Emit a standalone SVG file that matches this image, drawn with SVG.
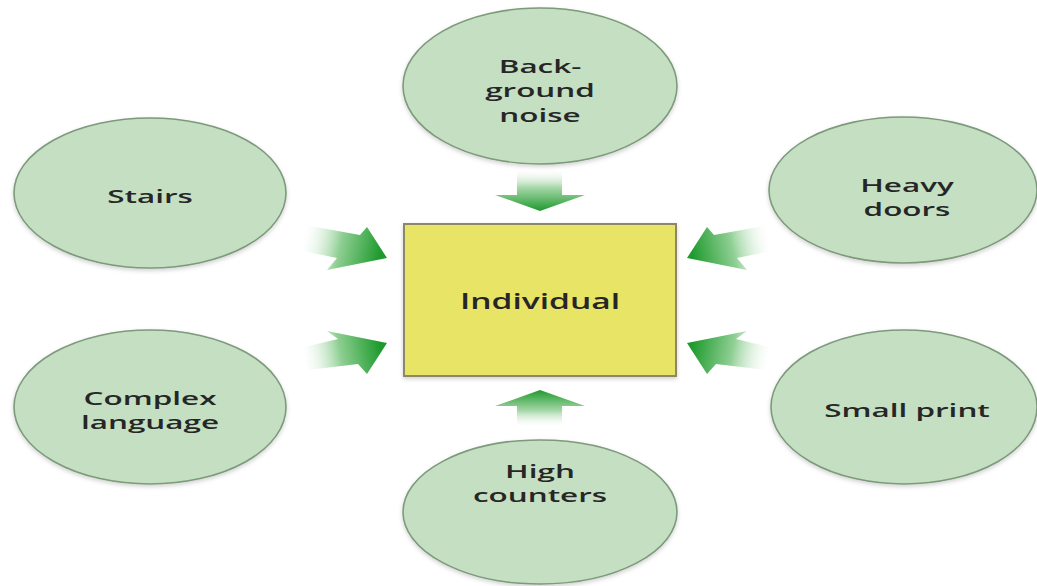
<svg xmlns="http://www.w3.org/2000/svg" width="1037" height="586" viewBox="0 0 1037 586">
  <style>
    .node-ellipse { fill: #c4dfc1; stroke: #7d9a7b; stroke-width: 1.6; filter: url(#soft); }
    .node-rect { fill: #e8e566; stroke: #8c876b; stroke-width: 2; filter: url(#soft); }
    .label { font-family: "Open Sans", "Liberation Sans", sans-serif; font-weight: 600; font-size: 18.5px; fill: #262626; text-anchor: middle; }
    .label-main { font-size: 21px; }
  </style>
  <defs>
    <filter id="soft" x="-10%" y="-10%" width="120%" height="125%">
      <feDropShadow dx="0" dy="2" stdDeviation="2" flood-color="#000" flood-opacity="0.18"/>
    </filter>
    <!-- arrow fills fade from white at the tail to green at the tip -->
    <linearGradient id="gDown" gradientUnits="userSpaceOnUse" x1="540" y1="168" x2="540" y2="211">
      <stop offset="0" stop-color="#ffffff" stop-opacity="0"/>
      <stop offset="0.45" stop-color="#a8d8aa"/>
      <stop offset="1" stop-color="#1f9a2e"/>
    </linearGradient>
    <linearGradient id="gUp" gradientUnits="userSpaceOnUse" x1="540" y1="428" x2="540" y2="390">
      <stop offset="0" stop-color="#ffffff" stop-opacity="0"/>
      <stop offset="0.45" stop-color="#a8d8aa"/>
      <stop offset="1" stop-color="#1f9a2e"/>
    </linearGradient>
    <linearGradient id="gStairs" gradientUnits="userSpaceOnUse" x1="300" y1="238" x2="380" y2="255">
      <stop offset="0" stop-color="#ffffff" stop-opacity="0"/>
      <stop offset="0.5" stop-color="#8fcf93"/>
      <stop offset="1" stop-color="#1f9a2e"/>
    </linearGradient>
    <linearGradient id="gComplex" gradientUnits="userSpaceOnUse" x1="300" y1="360" x2="380" y2="346">
      <stop offset="0" stop-color="#ffffff" stop-opacity="0"/>
      <stop offset="0.5" stop-color="#8fcf93"/>
      <stop offset="1" stop-color="#1f9a2e"/>
    </linearGradient>
    <linearGradient id="gDoors" gradientUnits="userSpaceOnUse" x1="772" y1="238" x2="692" y2="255">
      <stop offset="0" stop-color="#ffffff" stop-opacity="0"/>
      <stop offset="0.5" stop-color="#8fcf93"/>
      <stop offset="1" stop-color="#1f9a2e"/>
    </linearGradient>
    <linearGradient id="gPrint" gradientUnits="userSpaceOnUse" x1="772" y1="360" x2="692" y2="346">
      <stop offset="0" stop-color="#ffffff" stop-opacity="0"/>
      <stop offset="0.5" stop-color="#8fcf93"/>
      <stop offset="1" stop-color="#1f9a2e"/>
    </linearGradient>
  </defs>

  <rect width="1037" height="586" fill="#ffffff"/>

  <!-- block arrows pointing at the central box -->
  <g id="connectors">
    <polygon fill="url(#gDown)" points="517,170 562,170 562,195 585,195 540,211 495,195 517,195"/>
    <polygon fill="url(#gUp)" points="517,426 562,426 562,406 585,406 540,390 495,406 517,406"/>
    <polygon fill="url(#gStairs)" points="305,225 360,235 367,227 387,258 327,270 337,258 298,250"/>
    <polygon fill="url(#gComplex)" points="300,348 338,339 327,331 387,343 367,374 358,364 308,370"/>
    <polygon fill="url(#gDoors)" points="769,225 714,235 707,227 687,258 747,270 737,258 776,250"/>
    <polygon fill="url(#gPrint)" points="774,348 736,339 747,331 687,343 707,374 716,364 766,370"/>
  </g>

  <g id="node-individual">
    <rect class="node-rect" x="404" y="224" width="272" height="152"/>
    <g transform="translate(540 309) scale(1.6 1)"><text class="label label-main" x="0" y="0">Individual</text></g>
  </g>

  <g id="node-background-noise">
    <ellipse class="node-ellipse" cx="540" cy="86" rx="137" ry="78"/>
    <g transform="translate(540 0) scale(1.7 1)">
      <text class="label" x="0" y="73">Back-</text>
      <text class="label" x="0" y="97">ground</text>
      <text class="label" x="0" y="122">noise</text>
    </g>
  </g>

  <g id="node-stairs">
    <ellipse class="node-ellipse" cx="150" cy="193" rx="136" ry="75"/>
    <g transform="translate(150 0) scale(1.7 1)"><text class="label" x="0" y="203">Stairs</text></g>
  </g>

  <g id="node-heavy-doors">
    <ellipse class="node-ellipse" cx="903" cy="190" rx="134" ry="73"/>
    <g transform="translate(907 0) scale(1.7 1)">
      <text class="label" x="0" y="192">Heavy</text>
      <text class="label" x="0" y="216">doors</text>
    </g>
  </g>

  <g id="node-complex-language">
    <ellipse class="node-ellipse" cx="150" cy="407" rx="136" ry="77"/>
    <g transform="translate(150 0) scale(1.7 1)">
      <text class="label" x="0" y="405">Complex</text>
      <text class="label" x="0" y="429">language</text>
    </g>
  </g>

  <g id="node-small-print">
    <ellipse class="node-ellipse" cx="904" cy="407" rx="133" ry="77"/>
    <g transform="translate(907 0) scale(1.7 1)"><text class="label" x="0" y="417">Small print</text></g>
  </g>

  <g id="node-high-counters">
    <ellipse class="node-ellipse" cx="540" cy="512" rx="137" ry="72"/>
    <g transform="translate(540 0) scale(1.7 1)">
      <text class="label" x="0" y="478">High</text>
      <text class="label" x="0" y="502">counters</text>
    </g>
  </g>
</svg>
